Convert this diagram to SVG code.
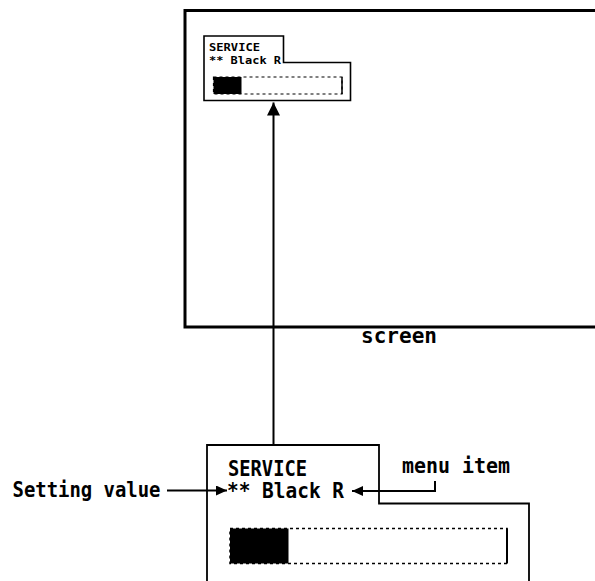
<svg xmlns="http://www.w3.org/2000/svg" width="595" height="581" viewBox="0 0 595 581">
<style>
.t{font-family:"DejaVu Sans Mono","Liberation Mono",monospace;font-weight:bold;font-size:21px;fill:#000}
.s{font-family:"DejaVu Sans Mono","Liberation Mono",monospace;font-weight:bold;font-size:10.5px;fill:#000}
.ln{fill:none;stroke:#000}
.dash{fill:none;stroke:#000;stroke-dasharray:3 3}
</style>
<defs>
<marker id="ah" markerWidth="12" markerHeight="10" refX="11" refY="5" orient="auto" markerUnits="userSpaceOnUse">
<path d="M0,0 L11,5 L0,10 Z" fill="#000"/>
</marker>
<marker id="ahv" markerWidth="14" markerHeight="13" refX="13" refY="6.5" orient="auto" markerUnits="userSpaceOnUse">
<path d="M0,0 L13,6.5 L0,13 Z" fill="#000"/>
</marker>
</defs>
<rect width="595" height="581" fill="#fff"/>
<g id="screen">
<path class="ln" d="M596,10.5 H185 V327 H596" stroke-width="3"/>
<text class="t" x="361" y="343" textLength="76" lengthAdjust="spacingAndGlyphs">screen</text>
</g>
<g id="small-menu">
<path class="ln" d="M204,36 H283.5 V62.5 H350.5 V100.5 H204 Z" stroke-width="1.6"/>
<text class="s" x="209" y="51" textLength="51" lengthAdjust="spacingAndGlyphs">SERVICE</text>
<text class="s" x="209" y="63.5" textLength="72" lengthAdjust="spacingAndGlyphs">** Black R</text>
<rect x="213.5" y="77" width="28" height="17" fill="#000"/>
<rect class="dash" x="213.5" y="77" width="128.5" height="17" stroke-width="1.2"/>
<line class="ln" x1="342" y1="77" x2="342" y2="94" stroke-width="1.5"/>
</g>
<g id="menu">
<path class="ln" d="M207,582 V445 H379 V503.5 H529 V582" stroke-width="1.8"/>
<text class="t" x="228" y="476" textLength="79" lengthAdjust="spacingAndGlyphs">SERVICE</text>
<text class="t" x="227" y="498" textLength="117" lengthAdjust="spacingAndGlyphs">** Black R</text>
<rect x="230" y="528.5" width="58.5" height="35" fill="#000"/>
<rect class="dash" x="230" y="528.5" width="277" height="35" stroke-width="1.5"/>
<line class="ln" x1="507" y1="528.5" x2="507" y2="563.5" stroke-width="2"/>
</g>
<g id="label-setting">
<text class="t" x="12.5" y="497" textLength="148" lengthAdjust="spacingAndGlyphs">Setting value</text>
</g>
<g id="label-menu-item">
<text class="t" x="402" y="472.5" textLength="108" lengthAdjust="spacingAndGlyphs">menu item</text>
</g>
<g id="connectors">
<line class="ln" x1="273.5" y1="445" x2="273.5" y2="102.5" stroke-width="2" marker-end="url(#ahv)"/>
<line class="ln" x1="167" y1="490.5" x2="227" y2="490.5" stroke-width="2" marker-end="url(#ah)"/>
<polyline class="ln" points="435,481 435,491 352,491" stroke-width="2" marker-end="url(#ah)"/>
</g>
</svg>
